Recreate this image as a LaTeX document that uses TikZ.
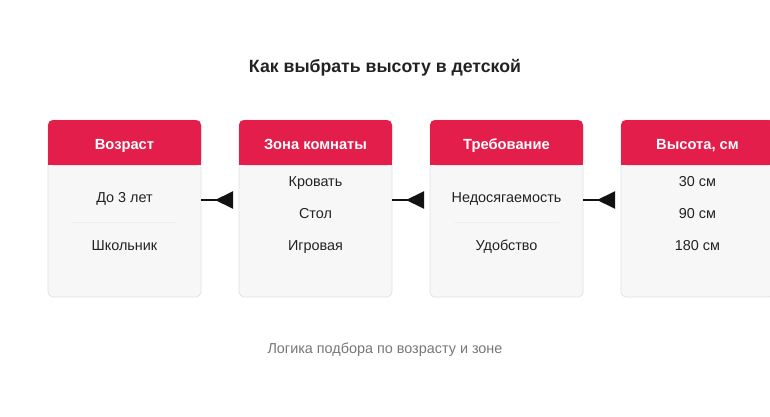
\documentclass[tikz,border=0pt]{standalone}
\usepackage{fontspec}
\setmainfont{Liberation Sans}
\usetikzlibrary{arrows.meta}
\definecolor{hdr}{HTML}{E31E4A}
\definecolor{cardfill}{HTML}{F7F7F7}
\definecolor{cardline}{HTML}{E2E2E6}
\definecolor{sepline}{HTML}{EFEFEF}
\definecolor{txt}{HTML}{222222}
\definecolor{cap}{HTML}{777777}
\begin{document}
\begin{tikzpicture}[x=1pt,y=-1pt,
  cardbox/.style={draw=cardline,line width=0.8pt,fill=cardfill,rounded corners=5pt},
  hdrbox/.style={fill=hdr,rounded corners=5pt},
  hdrtext/.style={anchor=base,inner sep=0pt,text=white,font=\fontsize{14.7}{16}\selectfont\bfseries},
  itemtext/.style={anchor=base,inner sep=0pt,text=txt,font=\fontsize{14.4}{16}\selectfont},
  linkarrow/.style={line width=2pt,black!93,-{Triangle[reversed,length=18pt,width=17pt]},shorten >=6pt}]
\useasboundingbox (0,0) rectangle (770,417);
\fill[white] (0,0) rectangle (770,417);
\node[anchor=base,inner sep=0pt,font=\fontsize{17.7}{20}\selectfont\bfseries,text=txt] (title) at (385,72.5) {Как выбрать высоту в детской};
% cards
\foreach \x/\n in {48/c1,239/c2,430/c3,621/c4}{
  \draw[cardbox] (\x,120) rectangle (\x+153,297);
  \path[hdrbox] (\x,120) rectangle (\x+153,165);
  \fill[hdr] (\x,150) rectangle (\x+153,165);
  \coordinate (\n w) at (\x,200);
  \coordinate (\n e) at (\x+153,200);
}
\node[hdrtext] (h1) at (124.5,149.5) {Возраст};
\node[hdrtext] (h2) at (315.5,149.5) {Зона комнаты};
\node[hdrtext] (h3) at (506.5,149.5) {Требование};
\node[hdrtext] (h4) at (697.5,149.5) {Высота, см};
% card 1
\node[itemtext] (a1) at (124.5,202) {До 3 лет};
\draw[sepline,line width=0.8pt] (72,222) -- (177,222);
\node[itemtext] (a2) at (124.5,250.5) {Школьник};
% card 2
\node[itemtext] (b1) at (315.5,186.5) {Кровать};
\node[itemtext] (b2) at (315.5,218.5) {Стол};
\node[itemtext] (b3) at (315.5,250.5) {Игровая};
% card 3
\node[itemtext] (d1) at (506.5,202) {Недосягаемость};
\draw[sepline,line width=0.8pt] (454,222) -- (559,222);
\node[itemtext] (d2) at (506.5,250.5) {Удобство};
% card 4
\node[itemtext] (e1) at (697.5,186.5) {30 см};
\node[itemtext] (e2) at (697.5,218.5) {90 см};
\node[itemtext] (e3) at (697.5,250.5) {180 см};
% arrows
\draw[linkarrow] (c1e) -- (c2w);
\draw[linkarrow] (c2e) -- (c3w);
\draw[linkarrow] (c3e) -- (c4w);
\node[anchor=base,inner sep=0pt,font=\fontsize{14.4}{16}\selectfont,text=cap] (caption) at (385,353.3) {Логика подбора по возрасту и зоне};
\end{tikzpicture}
\end{document}
